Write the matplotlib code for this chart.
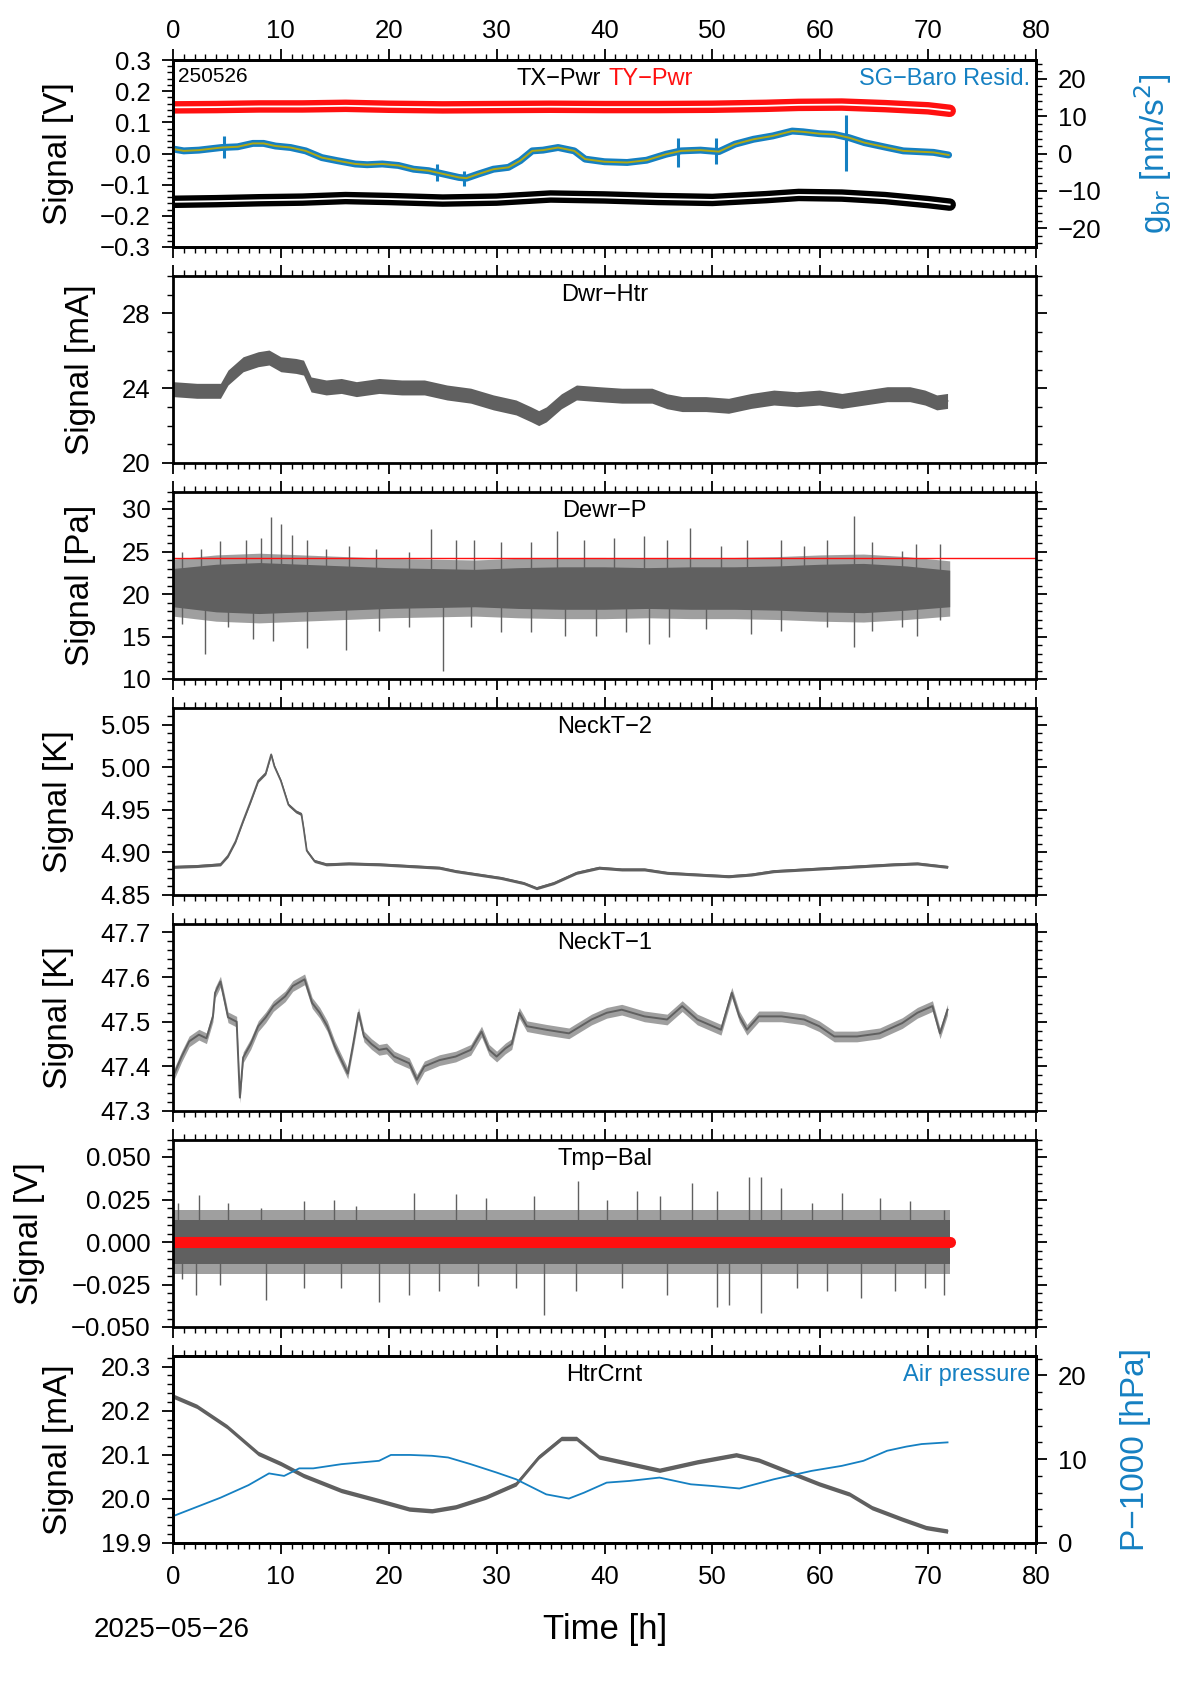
import matplotlib
matplotlib.use("Agg")
import matplotlib.pyplot as plt
from matplotlib.ticker import MultipleLocator, FuncFormatter

plt.rcParams['font.family'] = ['Liberation Sans', 'DejaVu Sans']
plt.rcParams['axes.unicode_minus'] = True

GRAY = '#606060'
BLUE = '#1580c2'
RED = '#ff1010'
OLIVE = '#b0a814'

# ---------------- data ----------------
# panel 1: TX/TY power (V) and SG-Baro residual (nm/s^2)
pwr_t = [0, 4, 8, 12, 16, 20, 25, 30, 35, 40, 45, 50, 55, 58, 62, 66, 70, 72]
ty_pwr = [0.148, 0.149, 0.151, 0.151, 0.153, 0.150, 0.148, 0.149, 0.150,
          0.149, 0.149, 0.150, 0.153, 0.156, 0.157, 0.152, 0.145, 0.137]
tx_pwr = [-0.155, -0.153, -0.150, -0.148, -0.143, -0.146, -0.151, -0.148, -0.138,
          -0.141, -0.146, -0.149, -0.140, -0.133, -0.135, -0.143, -0.156, -0.164]

sg_t = [0, 1, 2.4, 4.5, 6, 7.4, 8.4, 9.5, 10.9, 12.3, 13.8, 15.2, 16.9, 18, 19.4,
        20.9, 22.3, 23.7, 25.1, 26.5, 27.2, 28.3, 29.7, 31.1, 32.2, 33.3, 34.3,
        35.7, 37.2, 38.2, 40, 42.1, 43.9, 45.7, 47.1, 48.9, 50.6, 52.1, 53.8,
        55.6, 57.4, 58.4, 59.9, 61.3, 62.7, 64.1, 66.2, 67.7, 69.1, 70.5, 71.9]
sg_resid = [1.2, 0.7, 0.9, 1.6, 1.8, 2.7, 2.7, 2.0, 1.6, 0.7, -1.1, -1.9, -2.8,
            -3.0, -2.8, -3.2, -4.2, -4.6, -5.5, -6.4, -6.6, -5.5, -4.2, -3.7,
            -1.9, 0.7, 0.9, 1.6, 0.7, -1.5, -2.2, -2.4, -1.8, -0.2, 0.7, 0.9,
            0.5, 2.5, 3.8, 4.7, 6.0, 5.8, 5.3, 5.1, 4.2, 2.9, 1.6, 0.7, 0.5,
            0.3, -0.4]
sg_spike_t = [4.7, 24.5, 27.0, 46.8, 50.3, 62.4]
sg_spike_hi = [4.7, -2.8, -4.6, 4.2, 4.2, 10.4]
sg_spike_lo = [-1.1, -7.3, -8.6, -3.7, -2.8, -4.6]

# panel 2: Dwr-Htr (mA)
htr_t = [0, 2.2, 4.4, 5.1, 6.5, 7.9, 8.9, 10, 11.4, 12.1, 12.8, 14.2, 15.6, 17,
         19.1, 21.2, 23.3, 25.4, 27.6, 29.7, 31.8, 33.2, 33.9, 34.6, 36, 37.4,
         39.5, 41.6, 44.4, 45.8, 47.2, 49.4, 51.5, 53.6, 55.7, 57.8, 59.9, 62,
         64.1, 66.2, 68.3, 69.7, 70.8, 71.8]
dwr_htr = [23.95, 23.86, 23.86, 24.57, 25.28, 25.55, 25.64, 25.28, 25.19, 25.1,
           24.2, 24.04, 24.12, 23.95, 24.12, 24.04, 24.04, 23.77, 23.6, 23.24,
           22.97, 22.6, 22.4, 22.6, 23.3, 23.77, 23.68, 23.6, 23.6, 23.3, 23.15,
           23.15, 23.06, 23.32, 23.5, 23.41, 23.5, 23.32, 23.5, 23.68, 23.68,
           23.5, 23.24, 23.32]
dwr_htr_noise = 0.4

# panel 3: Dewr-P (Pa)
dewr_t = [0, 4, 8, 12, 16, 20, 24, 28, 32, 36, 40, 44, 48, 52, 56, 60, 64, 68, 72]
dewr_core_hi = [23.0, 23.5, 23.7, 23.5, 23.3, 23.1, 23.0, 22.9, 23.1, 23.2, 23.2,
                23.1, 23.2, 23.2, 23.3, 23.5, 23.6, 23.3, 22.8]
dewr_core_lo = [18.5, 17.9, 17.7, 17.9, 18.1, 18.3, 18.4, 18.5, 18.3, 18.2, 18.2,
                18.3, 18.2, 18.2, 18.1, 17.9, 17.8, 18.1, 18.5]
dewr_fuzz = 1.1
dewr_up_t = [0.8, 2.6, 4.4, 6.8, 8.2, 9.1, 10.0, 11.0, 12.4, 14.2, 16.3, 18.8,
             21.9, 23.9, 26.2, 27.9, 30.4, 33.2, 35.6, 38.1, 40.9, 43.7, 45.8,
             47.9, 50.8, 53.2, 56.4, 58.5, 60.6, 63.1, 64.8, 67.6, 68.9, 71.1]
dewr_up_v = [24.9, 25.3, 26.2, 26.4, 26.6, 29.1, 28.2, 27.0, 26.4, 25.3, 25.7,
             25.3, 24.9, 27.6, 26.4, 26.4, 26.1, 26.1, 27.4, 26.4, 26.6, 26.8,
             26.4, 27.8, 25.7, 26.4, 26.4, 25.7, 26.4, 29.2, 26.1, 25.1, 25.9, 25.9]
dewr_dn_t = [0.8, 3.0, 5.1, 7.4, 9.3, 12.4, 16.0, 19.1, 21.9, 25.0, 27.6, 30.4,
             33.2, 36.3, 39.2, 42.0, 44.1, 46.0, 49.4, 53.6, 56.4, 60.6, 63.1,
             64.8, 67.6, 69.0, 71.1]
dewr_dn_v = [16.5, 13.0, 16.1, 14.7, 14.5, 13.6, 13.4, 15.7, 16.1, 11.0, 16.1,
             15.5, 15.5, 15.1, 15.1, 15.5, 14.1, 14.9, 15.9, 15.3, 15.7, 16.1,
             13.8, 15.7, 16.1, 15.1, 16.9]
dewr_limit = 24.2

# panel 4: NeckT-2 (K)
n2_t = [0, 2.2, 4.4, 5.1, 5.8, 6.5, 7.2, 7.9, 8.6, 9.1, 9.4, 10, 10.7, 11.4, 11.9,
        12.1, 12.4, 13.1, 14.2, 16.3, 19.1, 21.9, 24.7, 26.2, 28.3, 30.4, 32.5,
        33.7, 35.3, 37.4, 39.5, 41.6, 43.7, 45.8, 48.6, 51.5, 53.6, 55.7, 58.5,
        61.3, 64.1, 66.9, 69, 71.8]
neck_t2 = [4.883, 4.884, 4.886, 4.896, 4.913, 4.937, 4.960, 4.984, 4.993, 5.015,
           5.001, 4.984, 4.956, 4.948, 4.945, 4.929, 4.902, 4.890, 4.886, 4.887,
           4.886, 4.884, 4.882, 4.878, 4.874, 4.870, 4.864, 4.858, 4.864, 4.876,
           4.882, 4.880, 4.880, 4.876, 4.874, 4.872, 4.874, 4.878, 4.880, 4.882,
           4.884, 4.886, 4.887, 4.883]
neck_t2_noise = 0.0018

# panel 5: NeckT-1 (K)
n1_t = [0, 0.8, 1.5, 2.4, 3.1, 3.7, 3.9, 4.4, 4.8, 5.1, 5.9, 6.2, 6.5, 7.2, 7.9,
        8.6, 9.3, 10.4, 11.1, 12.2, 12.9, 13.6, 14.3, 15.0, 16.2, 16.7, 17.2,
        17.7, 18.4, 19.1, 19.8, 20.5, 21.9, 22.6, 23.3, 24.7, 26.2, 27.6, 28.6,
        29.3, 30.0, 30.8, 31.4, 32.1, 32.8, 34.6, 36.7, 38.8, 40.2, 41.6, 43.7,
        45.8, 47.2, 48.6, 50.8, 51.8, 52.5, 53.2, 54.3, 56.4, 58.5, 59.9, 61.3,
        63.4, 65.5, 67.6, 69.0, 70.4, 71.1, 71.8]
neck_t1 = [47.377, 47.422, 47.456, 47.471, 47.463, 47.512, 47.565, 47.590, 47.545,
           47.510, 47.500, 47.330, 47.420, 47.450, 47.490, 47.510, 47.535, 47.557,
           47.580, 47.595, 47.542, 47.520, 47.490, 47.445, 47.384, 47.450, 47.520,
           47.467, 47.450, 47.437, 47.440, 47.422, 47.407, 47.370, 47.400, 47.414,
           47.422, 47.437, 47.478, 47.437, 47.422, 47.440, 47.450, 47.520, 47.490,
           47.482, 47.474, 47.505, 47.520, 47.527, 47.512, 47.505, 47.535, 47.505,
           47.482, 47.565, 47.512, 47.482, 47.512, 47.512, 47.505, 47.490, 47.467,
           47.467, 47.474, 47.497, 47.520, 47.535, 47.474, 47.527]
neck_t1_noise = 0.012

# panel 6: Tmp-Bal (V)
tb_t = [0, 72]
tb_core = 0.013
tb_fuzz = 0.019
tb_ref = 0.0
tb_up_t = [0.5, 2.4, 5.1, 8.2, 12.1, 14.9, 17.0, 22.3, 26.2, 29.0, 33.5, 37.5,
           40.2, 43.0, 45.1, 48.1, 50.4, 53.4, 54.5, 56.4, 59.2, 62.0, 65.5, 68.3, 71.5]
tb_up_v = [0.023, 0.0276, 0.023, 0.020, 0.024, 0.025, 0.021, 0.029, 0.028, 0.026,
           0.027, 0.036, 0.025, 0.030, 0.027, 0.035, 0.030, 0.038, 0.038, 0.032,
           0.023, 0.029, 0.026, 0.024, 0.019]
tb_dn_t = [0.8, 2.1, 4.4, 8.6, 12.1, 15.6, 19.1, 21.9, 24.7, 28.3, 31.8, 34.4,
           37.4, 41.6, 45.8, 50.4, 51.5, 54.5, 57.8, 60.6, 63.8, 66.9, 69.7, 71.5]
tb_dn_v = [-0.022, -0.031, -0.025, -0.034, -0.027, -0.027, -0.035, -0.031, -0.029,
           -0.026, -0.027, -0.043, -0.029, -0.027, -0.031, -0.038, -0.037, -0.042,
           -0.027, -0.029, -0.033, -0.029, -0.027, -0.031]

# panel 7: HtrCrnt (mA) and air pressure (P-1000 hPa)
hc_t = [0, 2.2, 5, 7.9, 10, 12.1, 15.6, 19.1, 21.9, 24, 26.2, 29, 31.8, 33.9, 36,
        37.4, 39.5, 42.3, 45.1, 48.6, 52.2, 54.3, 57.1, 59.9, 62.7, 64.8, 67.6,
        69.8, 71.8]
htr_crnt = [20.233, 20.21, 20.164, 20.103, 20.08, 20.053, 20.019, 19.996, 19.977,
            19.973, 19.982, 20.004, 20.034, 20.095, 20.137, 20.137, 20.095, 20.08,
            20.065, 20.084, 20.1, 20.088, 20.061, 20.034, 20.011, 19.98, 19.954,
            19.935, 19.927]
htr_crnt_noise = 0.005
ap_t = [0, 2, 4.4, 7, 8.9, 10.3, 11.7, 13, 15.6, 19.1, 20.2, 22, 24, 25.5, 27.6,
        30, 31.8, 34.6, 36.7, 38.1, 40.2, 42.3, 45.1, 48, 50, 52.5, 55.7, 59.2,
        62, 64, 66.2, 68, 69.4, 71.8]
air_p = [3.2, 4.2, 5.4, 6.9, 8.3, 8.0, 8.9, 8.9, 9.4, 9.8, 10.5, 10.5, 10.4, 10.2,
         9.4, 8.4, 7.6, 5.8, 5.3, 6.0, 7.2, 7.4, 7.8, 7.0, 6.8, 6.5, 7.6, 8.6,
         9.2, 9.8, 11.0, 11.5, 11.8, 12.0]

# ---------------- figure ----------------
W, H = 1190, 1684
fig = plt.figure(figsize=(W / 100, H / 100), dpi=100)
left_px, right_px = 173, 1036
panel_h = 187
tops = [60, 276, 492, 708, 924, 1140, 1356]


def make_ax(top):
    return fig.add_axes([left_px / W, 1 - (top + panel_h) / H,
                         (right_px - left_px) / W, panel_h / H])


def fmt(nd):
    return FuncFormatter(lambda v, p: ('%.*f' % (nd, v + 0.0)).replace('-', '\u2212')
                         if abs(v) > 1e-12 else '%.*f' % (nd, 0.0))


def style(ax, ylim, major, minor, nd, mirror=True, ylabel='Signal'):
    ax.set_xlim(0, 80)
    ax.set_ylim(*ylim)
    ax.xaxis.set_major_locator(MultipleLocator(10))
    ax.xaxis.set_minor_locator(MultipleLocator(1))
    ax.yaxis.set_major_locator(MultipleLocator(major))
    ax.yaxis.set_minor_locator(MultipleLocator(minor))
    ax.yaxis.set_major_formatter(fmt(nd))
    ax.tick_params(which='both', direction='out', top=True, bottom=True,
                   left=True, right=mirror, labelbottom=False, labeltop=False,
                   labelsize=18.5, width=1.3, pad=8)
    ax.tick_params(which='major', length=8)
    ax.tick_params(which='minor', length=4, width=1)
    for s in ax.spines.values():
        s.set_linewidth(2)
    ax.set_ylabel(ylabel, fontsize=24, labelpad=19)


def title(ax, txt):
    ax.text(0.5, 0.955, txt, transform=ax.transAxes, ha='center', va='top', fontsize=17)


def right_axis(ax, ylim, major, minor, label, pad):
    rx = ax.twinx()
    rx.set_ylim(*ylim)
    rx.yaxis.set_major_locator(MultipleLocator(major))
    rx.yaxis.set_minor_locator(MultipleLocator(minor))
    rx.yaxis.set_major_formatter(fmt(0))
    rx.tick_params(which='both', direction='out', labelsize=18.5, width=1.3, pad=8)
    rx.tick_params(which='major', length=8)
    rx.tick_params(which='minor', length=4, width=1)
    for s in rx.spines.values():
        s.set_linewidth(2)
    rx.set_ylabel(label, fontsize=24, color=BLUE, labelpad=pad)
    return rx


# panel 1
ax1 = make_ax(tops[0])
style(ax1, (-0.3, 0.3), 0.1, 0.02, 1, mirror=False, ylabel='Signal [V]')
ax1.tick_params(axis='x', which='major', labeltop=True, pad=4)
ax1.xaxis.set_major_formatter(fmt(0))
ax1.plot(pwr_t, ty_pwr, color=RED, lw=9, solid_capstyle='round')
ax1.plot(pwr_t, ty_pwr, color='white', lw=1.3)
ax1.plot(pwr_t, tx_pwr, color='black', lw=9, solid_capstyle='round')
ax1.plot(pwr_t, tx_pwr, color='white', lw=1.3)
ax1.text(0.006, 0.96, '250526', transform=ax1.transAxes, ha='left', va='top', fontsize=15)
ax1.text(0.496, 0.955, 'TX\u2212Pwr', transform=ax1.transAxes, ha='right', va='top', fontsize=17)
ax1.text(0.505, 0.955, 'TY\u2212Pwr', transform=ax1.transAxes, ha='left', va='top',
         fontsize=17, color=RED)
ax1.text(0.993, 0.955, 'SG\u2212Baro Resid.', transform=ax1.transAxes, ha='right',
         va='top', fontsize=17, color=BLUE)
rx1 = right_axis(ax1, (-25, 25), 10, 2, 'g$_{\\rm br}$ [nm/s$^2$]', 22)
rx1.plot(sg_t, sg_resid, color=BLUE, lw=5, solid_capstyle='round')
rx1.vlines(sg_spike_t, sg_spike_lo, sg_spike_hi, color=BLUE, lw=2.2)
rx1.plot(sg_t, sg_resid, color=OLIVE, lw=1.4)

# panel 2
ax2 = make_ax(tops[1])
style(ax2, (20, 30), 4, 1, 0, ylabel='Signal [mA]')
lo = [v - dwr_htr_noise for v in dwr_htr]
hi = [v + dwr_htr_noise for v in dwr_htr]
ax2.fill_between(htr_t, lo, hi, color=GRAY, lw=0)
ax2.plot(htr_t, dwr_htr, color=GRAY, lw=1.2)
title(ax2, 'Dwr\u2212Htr')

# panel 3
ax3 = make_ax(tops[2])
style(ax3, (10, 32), 5, 1, 0, ylabel='Signal [Pa]')
ax3.fill_between(dewr_t, [v - dewr_fuzz for v in dewr_core_lo],
                 [v + dewr_fuzz for v in dewr_core_hi], color=GRAY, alpha=0.6, lw=0)
ax3.fill_between(dewr_t, dewr_core_lo, dewr_core_hi, color=GRAY, lw=0)
ax3.vlines(dewr_up_t, 22, dewr_up_v, color=GRAY, lw=1)
ax3.vlines(dewr_dn_t, 19, dewr_dn_v, color=GRAY, lw=1)
ax3.axhline(dewr_limit, color=RED, lw=1)
title(ax3, 'Dewr\u2212P')

# panel 4
ax4 = make_ax(tops[3])
style(ax4, (4.85, 5.0695), 0.05, 0.01, 2, ylabel='Signal [K]')
ax4.fill_between(n2_t, [v - neck_t2_noise for v in neck_t2],
                 [v + neck_t2_noise for v in neck_t2], color=GRAY, lw=0)
ax4.plot(n2_t, neck_t2, color=GRAY, lw=1.3)
title(ax4, 'NeckT\u22122')

# panel 5
ax5 = make_ax(tops[4])
style(ax5, (47.3, 47.719), 0.1, 0.02, 1, ylabel='Signal [K]')
ax5.fill_between(n1_t, [v - neck_t1_noise for v in neck_t1],
                 [v + neck_t1_noise for v in neck_t1], color=GRAY, lw=0, alpha=0.6)
ax5.plot(n1_t, neck_t1, color=GRAY, lw=1.4)
title(ax5, 'NeckT\u22121')

# panel 6
ax6 = make_ax(tops[5])
style(ax6, (-0.05, 0.06), 0.025, 0.005, 3, ylabel='Signal [V]')
ax6.fill_between(tb_t, [-tb_fuzz] * 2, [tb_fuzz] * 2, color=GRAY, alpha=0.6, lw=0)
ax6.fill_between(tb_t, [-tb_core] * 2, [tb_core] * 2, color=GRAY, lw=0)
ax6.vlines(tb_up_t, 0, tb_up_v, color=GRAY, lw=1)
ax6.vlines(tb_dn_t, 0, tb_dn_v, color=GRAY, lw=1)
ax6.plot(tb_t, [tb_ref] * 2, color=RED, lw=8, solid_capstyle='round')
title(ax6, 'Tmp\u2212Bal')

# panel 7
ax7 = make_ax(tops[6])
style(ax7, (19.9, 20.324), 0.1, 0.02, 1, mirror=False, ylabel='Signal [mA]')
ax7.tick_params(labelbottom=True)
ax7.xaxis.set_major_formatter(fmt(0))
ax7.fill_between(hc_t, [v - htr_crnt_noise for v in htr_crnt],
                 [v + htr_crnt_noise for v in htr_crnt], color=GRAY, lw=0)
ax7.plot(hc_t, htr_crnt, color=GRAY, lw=1.2)
title(ax7, 'HtrCrnt')
ax7.text(0.993, 0.955, 'Air pressure', transform=ax7.transAxes, ha='right',
         va='top', fontsize=17, color=BLUE)
rx7 = right_axis(ax7, (0, 22.3), 10, 2, 'P\u22121000 [hPa]', 24)
rx7.plot(ap_t, air_p, color=BLUE, lw=1.3)

fig.text(172 / W, 1 - 1630 / H, '2025\u221205\u221226', ha='center', va='center', fontsize=20)
fig.text(605 / W, 1 - 1630 / H, 'Time [h]', ha='center', va='center', fontsize=25)

fig.savefig('out.png', dpi=100)
